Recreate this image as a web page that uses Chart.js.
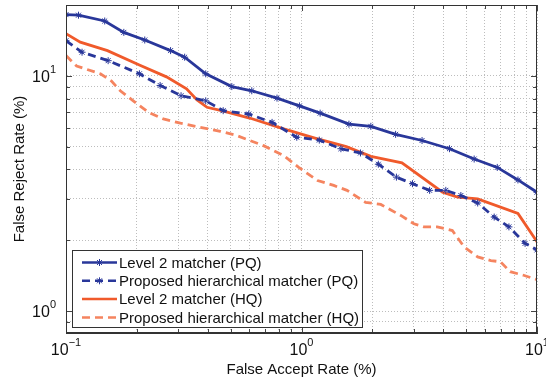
<!DOCTYPE html>
<html>
<head>
<meta charset="utf-8">
<script src="https://cdn.jsdelivr.net/npm/chart.js@4.4.1/dist/chart.umd.min.js"></script>
<style>
  html, body { margin: 0; padding: 0; background: #fff; }
  canvas { display: block; }
</style>
</head>
<body>
<canvas id="detChart" width="546" height="381"></canvas>
<script>
// DET curves: false accept rate (%) vs false reject rate (%)
const level2PqFar = [0.1, 0.113, 0.146, 0.176, 0.216, 0.278, 0.319, 0.392, 0.506, 0.615, 0.787, 0.98, 1.2, 1.59, 1.97, 2.51, 3.25, 4.25, 5.41, 6.78, 8.3, 10];
const level2PqFrr = [18.2, 18.1, 17.1, 15.3, 14.2, 12.8, 12.0, 10.2, 9.0, 8.64, 8.04, 7.45, 6.94, 6.23, 6.1, 5.64, 5.31, 4.9, 4.43, 4.08, 3.61, 3.2];

const hierPqFar = [0.1, 0.117, 0.151, 0.205, 0.251, 0.308, 0.392, 0.465, 0.597, 0.75, 0.955, 1.19, 1.47, 1.78, 2.12, 2.53, 2.96, 3.5, 4.1, 4.75, 5.6, 6.58, 7.6, 8.9, 10];
const hierPqFrr = [14.1, 12.6, 11.6, 10.2, 9.1, 8.23, 7.83, 7.11, 6.88, 6.34, 5.48, 5.33, 4.9, 4.7, 4.21, 3.71, 3.48, 3.26, 3.26, 3.1, 2.88, 2.51, 2.28, 1.94, 1.82];

const level2HqFar = [0.1, 0.115, 0.15, 0.206, 0.267, 0.325, 0.36, 0.397, 0.467, 0.607, 0.84, 1.15, 1.55, 1.97, 2.67, 3.97, 4.6, 5.6, 8.3, 10];
const level2HqFrr = [15.1, 13.9, 12.8, 11.1, 9.9, 8.8, 7.9, 7.35, 7.08, 6.6, 5.95, 5.42, 5.0, 4.55, 4.27, 3.2, 3.05, 3.0, 2.6, 1.97];

const hierHqFar = [0.1, 0.111, 0.14, 0.156, 0.17, 0.193, 0.224, 0.259, 0.306, 0.372, 0.452, 0.532, 0.69, 0.84, 0.97, 1.17, 1.37, 1.56, 1.87, 2.17, 2.64, 3.0, 3.31, 3.77, 4.37, 4.91, 5.6, 6.37, 7.0, 7.69, 8.77, 10];
const hierHqFrr = [12.2, 11.0, 10.2, 9.5, 8.64, 7.83, 7.0, 6.56, 6.29, 6.04, 5.81, 5.57, 5.05, 4.58, 4.09, 3.59, 3.42, 3.26, 2.9, 2.84, 2.55, 2.35, 2.28, 2.28, 2.2, 1.87, 1.7, 1.64, 1.62, 1.47, 1.42, 1.36];

const seriesLabels = [
  'Level 2 matcher (PQ)',
  'Proposed hierarchical matcher (PQ)',
  'Level 2 matcher (HQ)',
  'Proposed hierarchical matcher (HQ)'
];

// grid / tick positions
const xTickValues = [0.1, 0.2, 0.3, 0.4, 0.5, 0.6, 0.7, 0.8, 0.9, 1, 2, 3, 4, 5, 6, 7, 8, 9, 10];
const yTickValues = [0.9, 1, 2, 3, 4, 5, 6, 7, 8, 9, 10, 20];
const xLabelValues = [0.1, 1, 10];
const yLabelValues = [1, 10];

const FONT = '"Liberation Sans", Arial, Helvetica, sans-serif';
const BLUE = '#29379a';
const ORANGE = '#f05a2b';
const ORANGE_LIGHT = '#f5845f';

function toPoints(xs, ys) {
  return xs.map((x, i) => ({ x: x, y: ys[i] }));
}

function expText(v) {
  const e = Math.round(Math.log10(v));
  return e < 0 ? '\u2212' + Math.abs(e) : String(e);
}

function drawPower(ctx, x, y, v, align) {
  ctx.font = '16px ' + FONT;
  const bw = ctx.measureText('10').width;
  const ex = expText(v);
  ctx.font = '11px ' + FONT;
  const ew = ctx.measureText(ex).width;
  const x0 = align === 'right' ? x - bw - ew : x - (bw + ew) / 2;
  ctx.fillStyle = '#111';
  ctx.textAlign = 'left';
  ctx.textBaseline = 'middle';
  ctx.font = '16px ' + FONT;
  ctx.fillText('10', x0, y);
  ctx.font = '11px ' + FONT;
  ctx.fillText(ex, x0 + bw, y - 8);
}

// frame, inward ticks, tick labels and the legend box
const decorations = {
  id: 'decorations',
  afterDatasetsDraw(chart) {
    const ctx = chart.ctx;
    const a = chart.chartArea;
    const xs = chart.scales.x;
    const ys = chart.scales.y;
    ctx.save();

    // inward ticks on all four sides
    ctx.strokeStyle = '#444';
    ctx.lineWidth = 1;
    ctx.beginPath();
    xTickValues.forEach(v => {
      const px = Math.round(xs.getPixelForValue(v)) + 0.5;
      const len = xLabelValues.includes(v) ? 6 : 4;
      ctx.moveTo(px, a.bottom); ctx.lineTo(px, a.bottom - len);
      ctx.moveTo(px, a.top); ctx.lineTo(px, a.top + len);
    });
    yTickValues.forEach(v => {
      const py = Math.round(ys.getPixelForValue(v)) + 0.5;
      const len = yLabelValues.includes(v) ? 6 : 4;
      ctx.moveTo(a.left, py); ctx.lineTo(a.left + len, py);
      ctx.moveTo(a.right, py); ctx.lineTo(a.right - len, py);
    });
    ctx.stroke();

    // frame
    ctx.strokeStyle = '#333';
    ctx.strokeRect(a.left + 0.5, a.top + 0.5, a.right - a.left - 1, a.bottom - a.top - 1);

    // tick labels
    xLabelValues.forEach(v => drawPower(ctx, xs.getPixelForValue(v), a.bottom + 18, v, 'center'));
    yLabelValues.forEach(v => drawPower(ctx, 56, ys.getPixelForValue(v) + 2, v, 'right'));

    // legend
    const lx = 72, ly = 250, lw = 290, lh = 77;
    ctx.fillStyle = '#fff';
    ctx.fillRect(lx, ly, lw, lh);
    ctx.strokeStyle = '#333';
    ctx.lineWidth = 1;
    ctx.strokeRect(lx + 0.5, ly + 0.5, lw, lh);
    chart.data.datasets.forEach((ds, i) => {
      const ry = 262.5 + i * 18.3;
      ctx.strokeStyle = ds.borderColor;
      ctx.lineWidth = 2.5;
      ctx.setLineDash(ds.borderDash || []);
      ctx.beginPath();
      ctx.moveTo(82, ry); ctx.lineTo(117, ry);
      ctx.stroke();
      ctx.setLineDash([]);
      if (ds.pointRadius > 0) {
        ctx.lineWidth = ds.pointBorderWidth;
        Chart.helpers.drawPoint(ctx, {
          pointStyle: ds.pointStyle, radius: ds.pointRadius, borderWidth: ds.pointBorderWidth, rotation: 0
        }, 99.5, ry);
      }
      ctx.fillStyle = '#111';
      ctx.font = '15px ' + FONT;
      ctx.textAlign = 'left';
      ctx.textBaseline = 'middle';
      ctx.fillText(ds.label, 119, ry + 1);
    });
    ctx.restore();
  }
};

const datasets = [
  {
    label: seriesLabels[0],
    data: toPoints(level2PqFar, level2PqFrr),
    borderColor: BLUE, backgroundColor: BLUE,
    borderWidth: 2.8, pointStyle: 'star', pointRadius: 3.5, pointBorderWidth: 1
  },
  {
    label: seriesLabels[1],
    data: toPoints(hierPqFar, hierPqFrr),
    borderColor: BLUE, backgroundColor: BLUE, borderDash: [8, 5],
    borderWidth: 2.8, pointStyle: 'star', pointRadius: 3.5, pointBorderWidth: 1
  },
  {
    label: seriesLabels[2],
    data: toPoints(level2HqFar, level2HqFrr),
    borderColor: ORANGE, backgroundColor: ORANGE,
    borderWidth: 2.8, pointRadius: 0
  },
  {
    label: seriesLabels[3],
    data: toPoints(hierHqFar, hierHqFrr),
    borderColor: ORANGE_LIGHT, backgroundColor: ORANGE_LIGHT, borderDash: [8, 5],
    borderWidth: 2.8, pointRadius: 0
  }
];

const gridStyle = { color: '#bdbdbd', lineWidth: 1, drawTicks: false };
const borderStyle = { display: true, color: '#333', dash: [1, 2] };

new Chart(document.getElementById('detChart').getContext('2d'), {
  type: 'line',
  data: { datasets: datasets },
  plugins: [decorations],
  options: {
    responsive: false,
    animation: false,
    events: [],
    layout: { padding: { top: 4, right: 9, left: 0, bottom: 0 } },
    elements: { line: { tension: 0 } },
    plugins: { legend: { display: false }, tooltip: { enabled: false } },
    scales: {
      x: {
        type: 'logarithmic',
        min: 0.1, max: 10,
        grid: gridStyle,
        border: borderStyle,
        ticks: { display: false, autoSkip: false },
        afterBuildTicks: s => { s.ticks = xTickValues.map(v => ({ value: v })); },
        afterFit: s => { s.height = 48; s.paddingLeft = 0; s.paddingRight = 0; },
        title: {
          display: true, text: 'False Accept Rate (%)', color: '#111',
          font: { family: FONT, size: 15 }, padding: { top: 0, bottom: 2 }
        }
      },
      y: {
        type: 'logarithmic',
        min: 0.807, max: 20,
        grid: gridStyle,
        border: borderStyle,
        ticks: { display: false, autoSkip: false },
        afterBuildTicks: s => { s.ticks = yTickValues.map(v => ({ value: v })); },
        afterFit: s => { s.width = 66; s.paddingTop = 0; s.paddingBottom = 0; },
        title: {
          display: true, text: 'False Reject Rate (%)', color: '#111',
          font: { family: FONT, size: 15 }, padding: { top: 11, bottom: 0 }
        }
      }
    }
  }
});
</script>
</body>
</html>
